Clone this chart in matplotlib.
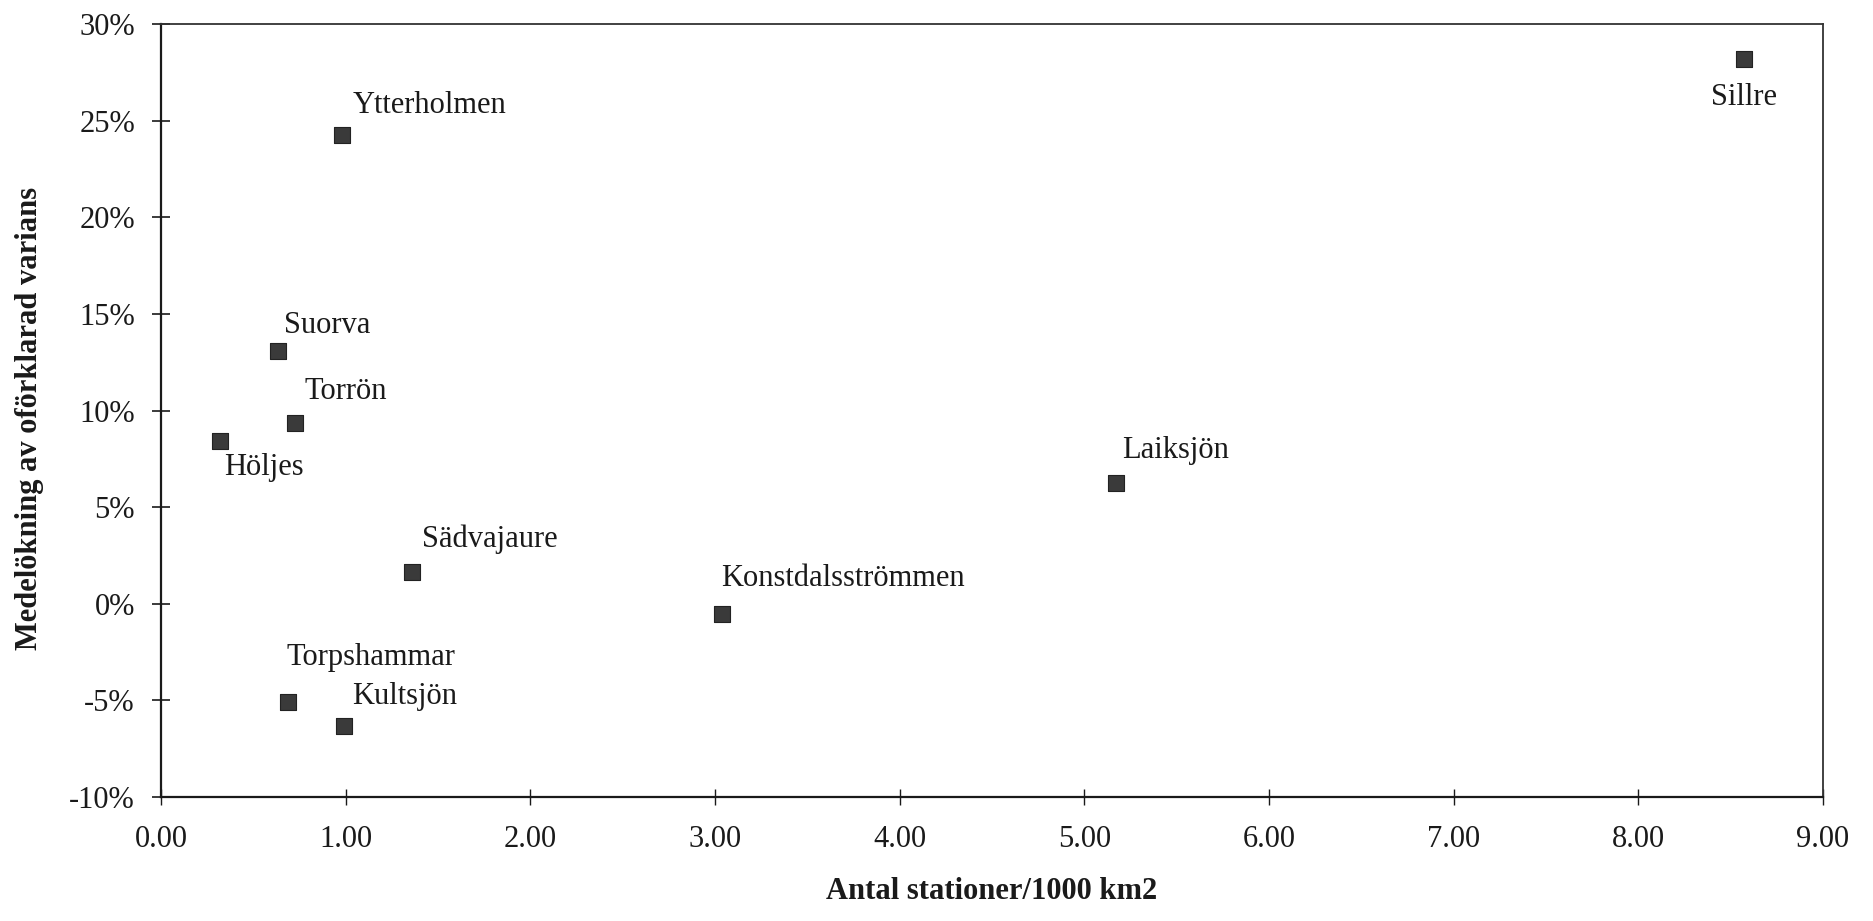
import matplotlib
matplotlib.use("Agg")
import matplotlib.pyplot as plt
from matplotlib.ticker import FuncFormatter, MultipleLocator

# Data
names = ["Ytterholmen", "Sillre", "Suorva", "Torrön", "Höljes", "Laiksjön",
         "Sädvajaure", "Konstdalsströmmen", "Torpshammar", "Kultsjön"]
x_vals = [0.98, 8.57, 0.635, 0.725, 0.32, 5.17, 1.36, 3.04, 0.69, 0.99]
y_vals = [24.25, 28.2, 13.1, 9.36, 8.43, 6.27, 1.63, -0.53, -5.1, -6.34]
x_ticks = [0, 1, 2, 3, 4, 5, 6, 7, 8, 9]
y_ticks = [-10, -5, 0, 5, 10, 15, 20, 25, 30]

# label offsets (pixels) and alignment
label_offsets = [(11, 30), (0, -39), (6, 25), (10, 31), (4, -27), (6, 32),
                 (10, 33), (-1, 35), (-2, 45), (8, 30)]
label_ha = ["left", "center", "left", "left", "left", "left", "left", "left", "left", "left"]

plt.rcParams['font.family'] = ['Liberation Serif', 'DejaVu Serif']

fig = plt.figure(figsize=(18.74, 9.21), dpi=100)
ax = fig.add_axes([161/1874, 1 - 797/921, (1823-161)/1874, (797-24)/921])

ax.scatter(x_vals, y_vals, marker='s', s=11**2, color='#3a3a3a',
           edgecolors='#222222', linewidths=0.8, zorder=3)

for n, xv, yv, (dx, dy), ha in zip(names, x_vals, y_vals, label_offsets, label_ha):
    ax.annotate(n, (xv, yv), xytext=(dx, dy), textcoords='offset pixels',
                ha=ha, va='center', fontsize=22, color='#1a1a1a')

ax.set_xlim(0, 9)
ax.set_ylim(-10, 30)
ax.set_xticks(x_ticks)
ax.set_yticks(y_ticks)
ax.xaxis.set_major_formatter(FuncFormatter(lambda v, p: f"{v:.2f}"))
ax.yaxis.set_major_formatter(FuncFormatter(lambda v, p: f"{int(round(v))}%"))

ax.tick_params(axis='y', direction='inout', length=13.5, width=1.2,
               labelsize=22, pad=12, colors='#1a1a1a')
ax.tick_params(axis='x', direction='inout', length=12, width=1.0,
               labelsize=22, pad=14, colors='#1a1a1a')

for s in ['left', 'bottom']:
    ax.spines[s].set_linewidth(1.6)
    ax.spines[s].set_color('#1a1a1a')
for s in ['top', 'right']:
    ax.spines[s].set_linewidth(1.3)
    ax.spines[s].set_color('#333333')

ax.set_xlabel("Antal stationer/1000 km2", fontsize=22, fontweight='bold', color='#1a1a1a')
ax.set_ylabel("Medelökning av oförklarad varians", fontsize=22, fontweight='bold', color='#1a1a1a')
ax.xaxis.set_label_coords(0.5, (797 - 891) / 773)
ax.yaxis.set_label_coords((30 - 161) / 1662, 0.49)
ax.xaxis.label.set_va('center')
ax.yaxis.label.set_va('center')

fig.savefig("out.png", dpi=100, facecolor='white')
